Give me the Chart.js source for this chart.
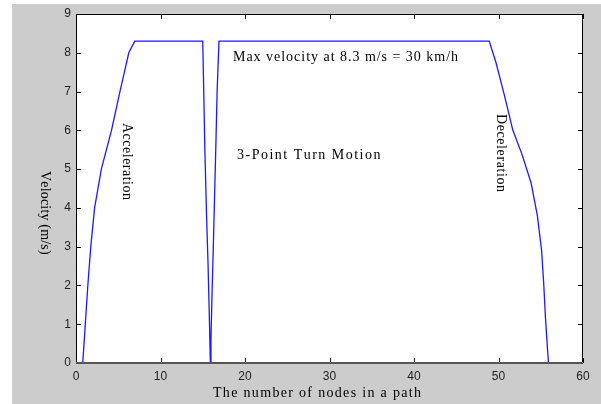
<!DOCTYPE html>
<html>
<head>
<meta charset="utf-8">
<script src="https://cdn.jsdelivr.net/npm/chart.js@4.4.1/dist/chart.umd.min.js"></script>
<style>
  html, body { margin: 0; padding: 0; background: #ffffff; }
  #c { display: block; }
</style>
</head>
<body>
<canvas id="c" width="601" height="404"></canvas>
<script>
// ---- data ----
const nodeX = [0.8, 1.1, 1.4, 1.75, 2.2, 3.0, 4.2, 5.2, 6.25, 6.95,
  15.0, 15.25, 15.45, 15.62, 15.78, 15.9,
  15.97, 16.1, 16.25, 16.4, 16.55, 16.7, 16.92,
  48.9, 49.7, 50.7, 51.7, 52.75, 53.85, 54.6, 55.1, 55.35, 55.55, 55.8, 55.92];
const velocity = [0, 1.0, 2.0, 3.0, 4.0, 5.0, 6.0, 7.0, 8.0, 8.3,
  8.3, 5.5, 3.8, 2.6, 1.2, 0,
  0.6, 1.8, 3.0, 4.3, 5.6, 7.0, 8.3,
  8.3, 7.75, 6.9, 6.0, 5.4, 4.65, 3.8, 2.9, 2.05, 1.2, 0.35, 0];
const xTicks = [0, 10, 20, 30, 40, 50, 60];
const yTicks = [0, 1, 2, 3, 4, 5, 6, 7, 8, 9];
const xTitle = 'The number of nodes in a path';
const yTitle = 'Velocity (m/s)';
const noteMax = 'Max velocity at 8.3 m/s = 30 km/h';
const noteTurn = '3-Point Turn Motion';
const noteAcc = 'Acceleration';
const noteDec = 'Deceleration';

const points = nodeX.map((x, i) => ({ x: x, y: velocity[i] }));

// draw text starting at (0,0) of current transform, spread to a target width
function spreadText(ctx, txt, width) {
  const natural = ctx.measureText(txt).width;
  const extra = txt.length > 1 ? (width - natural) / (txt.length - 1) : 0;
  let x = 0;
  for (const ch of txt) {
    ctx.fillText(ch, x, 0);
    x += ctx.measureText(ch).width + extra;
  }
}

const frame = {
  id: 'frame',
  beforeDraw(chart) {
    const ctx = chart.ctx, a = chart.chartArea;
    ctx.save();
    ctx.fillStyle = '#ffffff';
    ctx.fillRect(0, 0, chart.width, chart.height);
    ctx.fillStyle = '#cccccc';
    ctx.fillRect(12, 4, chart.width - 12, chart.height - 4);
    ctx.fillStyle = '#ffffff';
    ctx.fillRect(a.left, a.top, a.right - a.left, a.bottom - a.top);
    ctx.restore();
  },
  afterDraw(chart) {
    const ctx = chart.ctx, a = chart.chartArea;
    const xs = chart.scales.x, ys = chart.scales.y;
    ctx.save();
    ctx.strokeStyle = '#000000';
    ctx.lineWidth = 1;
    ctx.beginPath();
    xTicks.forEach(v => {
      const px = Math.round(xs.getPixelForValue(v)) + 0.5;
      ctx.moveTo(px, a.bottom); ctx.lineTo(px, a.bottom - 5);
      ctx.moveTo(px, a.top); ctx.lineTo(px, a.top + 5);
    });
    yTicks.forEach(v => {
      const py = Math.round(ys.getPixelForValue(v)) + 0.5;
      ctx.moveTo(a.left, py); ctx.lineTo(a.left + 5, py);
      ctx.moveTo(a.right, py); ctx.lineTo(a.right - 5, py);
    });
    ctx.stroke();
    ctx.beginPath();
    ctx.moveTo(a.left + 0.5, a.bottom); ctx.lineTo(a.left + 0.5, a.top + 0.5);
    ctx.lineTo(a.right - 0.5, a.top + 0.5); ctx.lineTo(a.right - 0.5, a.bottom);
    ctx.stroke();
    ctx.strokeStyle = '#555555';
    ctx.lineWidth = 2;
    ctx.beginPath();
    ctx.moveTo(a.left, a.bottom); ctx.lineTo(a.right, a.bottom);
    ctx.stroke();

    ctx.fillStyle = '#000000';
    ctx.font = '14px "Liberation Serif", "Times New Roman", serif';
    ctx.textBaseline = 'middle';
    ctx.textAlign = 'left';
    const horiz = (txt, x, y, w) => {
      ctx.save(); ctx.translate(x, y); spreadText(ctx, txt, w); ctx.restore();
    };
    const vert = (txt, cx, top, w) => {
      ctx.save(); ctx.translate(cx, top); ctx.rotate(Math.PI / 2);
      spreadText(ctx, txt, w); ctx.restore();
    };
    horiz(xTitle, 213, 393, 208);
    horiz(noteMax, 233, 57, 225);
    horiz(noteTurn, 237, 155, 143);
    vert(yTitle, 45, 171, 82);
    vert(noteAcc, 127, 123, 77);
    vert(noteDec, 501, 114, 78);
    ctx.restore();
  }
};

new Chart(document.getElementById('c'), {
  type: 'scatter',
  data: {
    datasets: [{
      data: points,
      showLine: true,
      borderColor: '#1a1aff',
      borderWidth: 1.3,
      pointRadius: 0,
      tension: 0,
      fill: false
    }]
  },
  options: {
    responsive: false,
    animation: false,
    devicePixelRatio: 1,
    layout: { padding: { left: 0, top: 14, right: 18, bottom: 0 } },
    plugins: { legend: { display: false }, tooltip: { enabled: false } },
    scales: {
      x: {
        type: 'linear', min: 0, max: 60,
        afterFit(s) { s.height = 41; },
        afterBuildTicks(s) { s.ticks = xTicks.map(v => ({ value: v })); },
        grid: { display: false, drawTicks: false },
        border: { display: false },
        ticks: { padding: 6, color: '#222222', font: { family: '"Liberation Sans", Arial, sans-serif', size: 12 } }
      },
      y: {
        type: 'linear', min: 0, max: 9,
        afterFit(s) { s.width = 76; },
        afterBuildTicks(s) { s.ticks = yTicks.map(v => ({ value: v })); },
        grid: { display: false, drawTicks: false },
        border: { display: false },
        ticks: { padding: 5, color: '#222222', font: { family: '"Liberation Sans", Arial, sans-serif', size: 12 } }
      }
    }
  },
  plugins: [frame]
});
</script>
</body>
</html>
